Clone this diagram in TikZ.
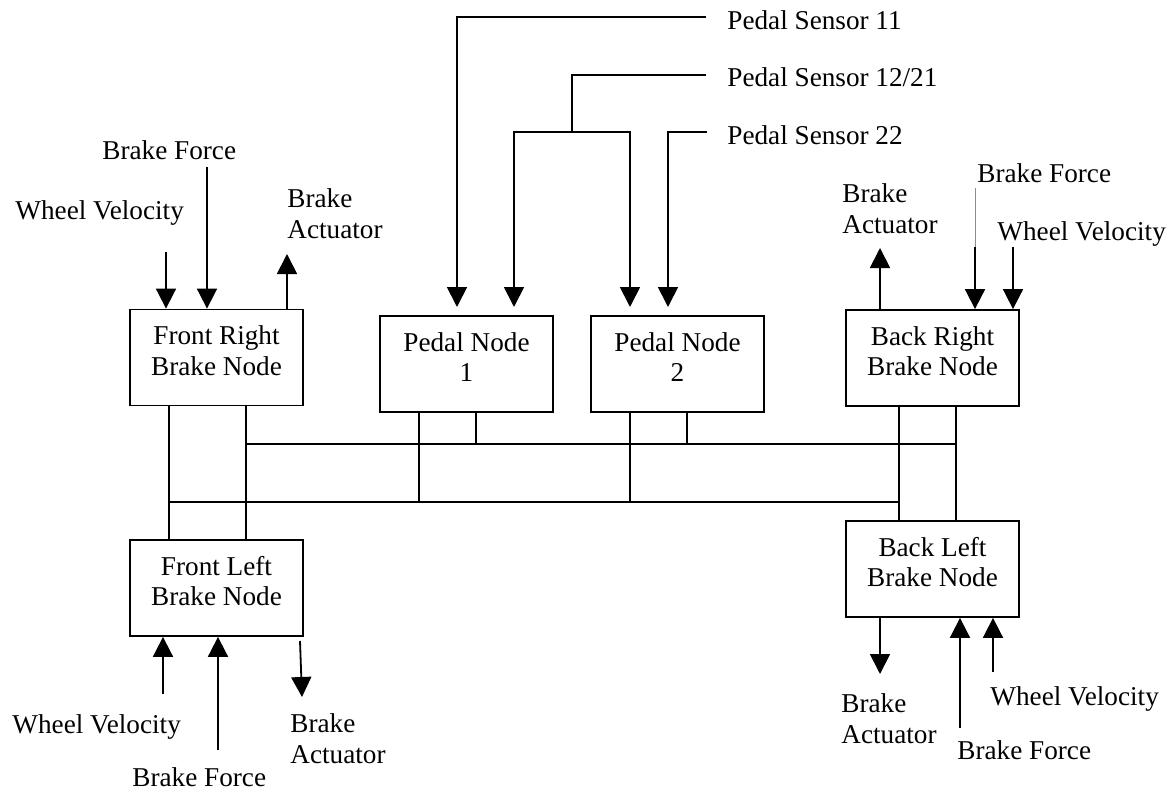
\documentclass[tikz,border=0pt]{standalone}
\usepackage{fontspec}
\setmainfont{Liberation Serif}
\usetikzlibrary{arrows.meta,calc}
\begin{document}
\begin{tikzpicture}[x=0.5pt,y=-0.5pt,
  every node/.style={font=\fontsize{13.6}{15.2}\selectfont},
  box/.style={draw, line width=0.9pt, minimum width=86.5pt, minimum height=48pt,
    inner sep=0pt, align=center, execute at end node={\rule[-7pt]{0pt}{0pt}}},
  lbl/.style={anchor=base west, inner sep=0pt, align=left},
  wire/.style={line width=0.9pt},
  arr/.style={line width=0.9pt, -{Triangle[length=10pt,width=10pt]}},
  faint/.style={line width=0.4pt, draw=black!45}]
\useasboundingbox (0,0) rectangle (1173,792);

% nodes
\node[box] (fr) at (216.5,357.5) {Front Right\\Brake Node};
\node[box] (fl) at (216.5,588) {Front Left\\Brake Node};
\node[box] (p1) at (466.5,364) {Pedal Node\\1};
\node[box] (p2) at (677.5,364) {Pedal Node\\2};
\node[box] (br) at (932.5,358) {Back Right\\Brake Node};
\node[box] (bl) at (932.5,569) {Back Left\\Brake Node};

% labels (base = baseline of the last line)
\node[lbl] (frwvl) at (15,220) {Wheel Velocity};
\node[lbl] (frbfl) at (102,160) {Brake Force};
\node[lbl] (frbal) at (287,238) {Brake\\Actuator};
\node[lbl] (flwvl) at (12,733) {Wheel Velocity};
\node[lbl] (flbfl) at (132,786) {Brake Force};
\node[lbl] (flbal) at (290,763) {Brake\\Actuator};
\node[lbl] (brbal) at (842,233) {Brake\\Actuator};
\node[lbl] (brbfl) at (977,183) {Brake Force};
\node[lbl] (brwvl) at (997,240) {Wheel Velocity};
\node[lbl] (blbal) at (841,743) {Brake\\Actuator};
\node[lbl] (blwvl) at (990,705) {Wheel Velocity};
\node[lbl] (blbfl) at (957,759) {Brake Force};
\node[lbl] (ps11) at (727,30) {Pedal Sensor 11};
\node[lbl] (ps12) at (727,87) {Pedal Sensor 12/21};
\node[lbl] (ps22) at (727,145) {Pedal Sensor 22};

% front right signals
\coordinate (frwv) at (166,252);
\coordinate (frbf) at (207,167);
\coordinate (frba) at (287,254);
\draw[arr] (frwv) -- (frwv |- fr.north);
\draw[arr] (frbf) -- (frbf |- fr.north);
\draw[arr] (frba |- fr.north) -- (frba);

% front left signals
\coordinate (flwv) at (163,694);
\coordinate (flbf) at (218,750);
\coordinate (flbas) at (300,641);
\coordinate (flba) at (302,697);
\draw[arr] (flwv) -- (flwv |- fl.south);
\draw[arr] (flbf) -- (flbf |- fl.south);
\draw[arr] (flbas) -- (flba);

% back right signals
\coordinate (brba) at (880,248);
\coordinate (brbft) at (975,188);
\coordinate (brbf) at (975,247);
\coordinate (brwv) at (1013,247);
\draw[arr] (brba |- br.north) -- (brba);
\draw[faint] (brbft) -- (brbf);
\draw[arr] (brbf) -- (brbf |- br.north);
\draw[arr] (brwv) -- (brwv |- br.north);

% back left signals
\coordinate (blba) at (880,674);
\coordinate (blbf) at (960,728);
\coordinate (blwv) at (993,672);
\draw[arr] (blba |- bl.south) -- (blba);
\draw[arr] (blbf) -- (blbf |- bl.south);
\draw[arr] (blwv) -- (blwv |- bl.south);

% pedal sensors
\coordinate (s11) at (706,17);
\coordinate (t11) at (457,307);
\coordinate (s12) at (706,75);
\coordinate (j12) at (572,132);
\coordinate (t12a) at (514,307);
\coordinate (t12b) at (630,307);
\coordinate (s22) at (707,132);
\coordinate (t22) at (668,307);
\draw[arr] (s11) -| (t11);
\draw[wire] (s12) -| (j12);
\draw[arr] (j12) -| (t12a);
\draw[arr] (j12) -| (t12b);
\draw[arr] (s22) -| (t22);

% bus
\coordinate (lbL) at (169,502);
\coordinate (lbR) at (899,502);
\coordinate (ubL) at (246,444);
\coordinate (ubR) at (956,444);
\coordinate (lbP1) at (419,502);
\coordinate (ubP1) at (476,444);
\coordinate (lbP2) at (630,502);
\coordinate (ubP2) at (687,444);
\draw[wire] (fr.south -| lbL) -- (fl.north -| lbL);
\draw[wire] (fr.south -| ubL) -- (fl.north -| ubL);
\draw[wire] (br.south -| lbR) -- (bl.north -| lbR);
\draw[wire] (br.south -| ubR) -- (bl.north -| ubR);
\draw[wire] (lbL) -- (lbR);
\draw[wire] (ubL) -- (ubR);
\draw[wire] (p1.south -| lbP1) -- (lbP1);
\draw[wire] (p1.south -| ubP1) -- (ubP1);
\draw[wire] (p2.south -| lbP2) -- (lbP2);
\draw[wire] (p2.south -| ubP2) -- (ubP2);
\end{tikzpicture}
\end{document}
